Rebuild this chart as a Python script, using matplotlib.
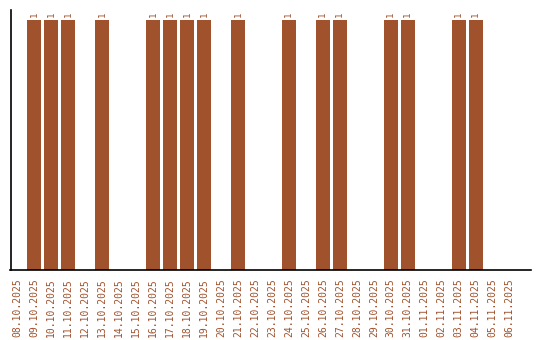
import matplotlib
matplotlib.use("Agg")
import matplotlib.pyplot as plt

dates = ["08.10.2025", "09.10.2025", "10.10.2025", "11.10.2025", "12.10.2025",
         "13.10.2025", "14.10.2025", "15.10.2025", "16.10.2025", "17.10.2025",
         "18.10.2025", "19.10.2025", "20.10.2025", "21.10.2025", "22.10.2025",
         "23.10.2025", "24.10.2025", "25.10.2025", "26.10.2025", "27.10.2025",
         "28.10.2025", "29.10.2025", "30.10.2025", "31.10.2025", "01.11.2025",
         "02.11.2025", "03.11.2025", "04.11.2025", "05.11.2025", "06.11.2025"]
values = [0, 1, 1, 1, 0, 1, 0, 0, 1, 1, 1, 1, 0, 1, 0, 0, 1, 0, 1, 1,
          0, 0, 1, 1, 0, 0, 1, 1, 0, 0]

color = "#a0522d"

fig = plt.figure(figsize=(5.4, 3.4), dpi=100)
ax = fig.add_axes([10.5 / 540, 70 / 340, 520 / 540, 260 / 340])

x = list(range(len(dates)))
bars = ax.bar(x, values, width=0.82, color=color)
for xi, v in zip(x, values):
    if v:
        ax.text(xi, v + 0.012, str(v), rotation=90, ha="center", va="bottom",
                color=color, fontsize=6.5, family="DejaVu Sans Mono")

ax.set_xlim(-0.38, 30.22)
ax.set_ylim(0, 1.04)
ax.set_xticks(x)
ax.set_xticklabels(dates, rotation=90, color=color, fontsize=7,
                   family="DejaVu Sans Mono")
ax.tick_params(axis="x", length=0, pad=6)
ax.set_yticks([])
ax.spines["top"].set_visible(False)
ax.spines["right"].set_visible(False)
ax.spines["left"].set_linewidth(1.2)
ax.spines["bottom"].set_linewidth(1.2)

fig.savefig("out.png", dpi=100)
